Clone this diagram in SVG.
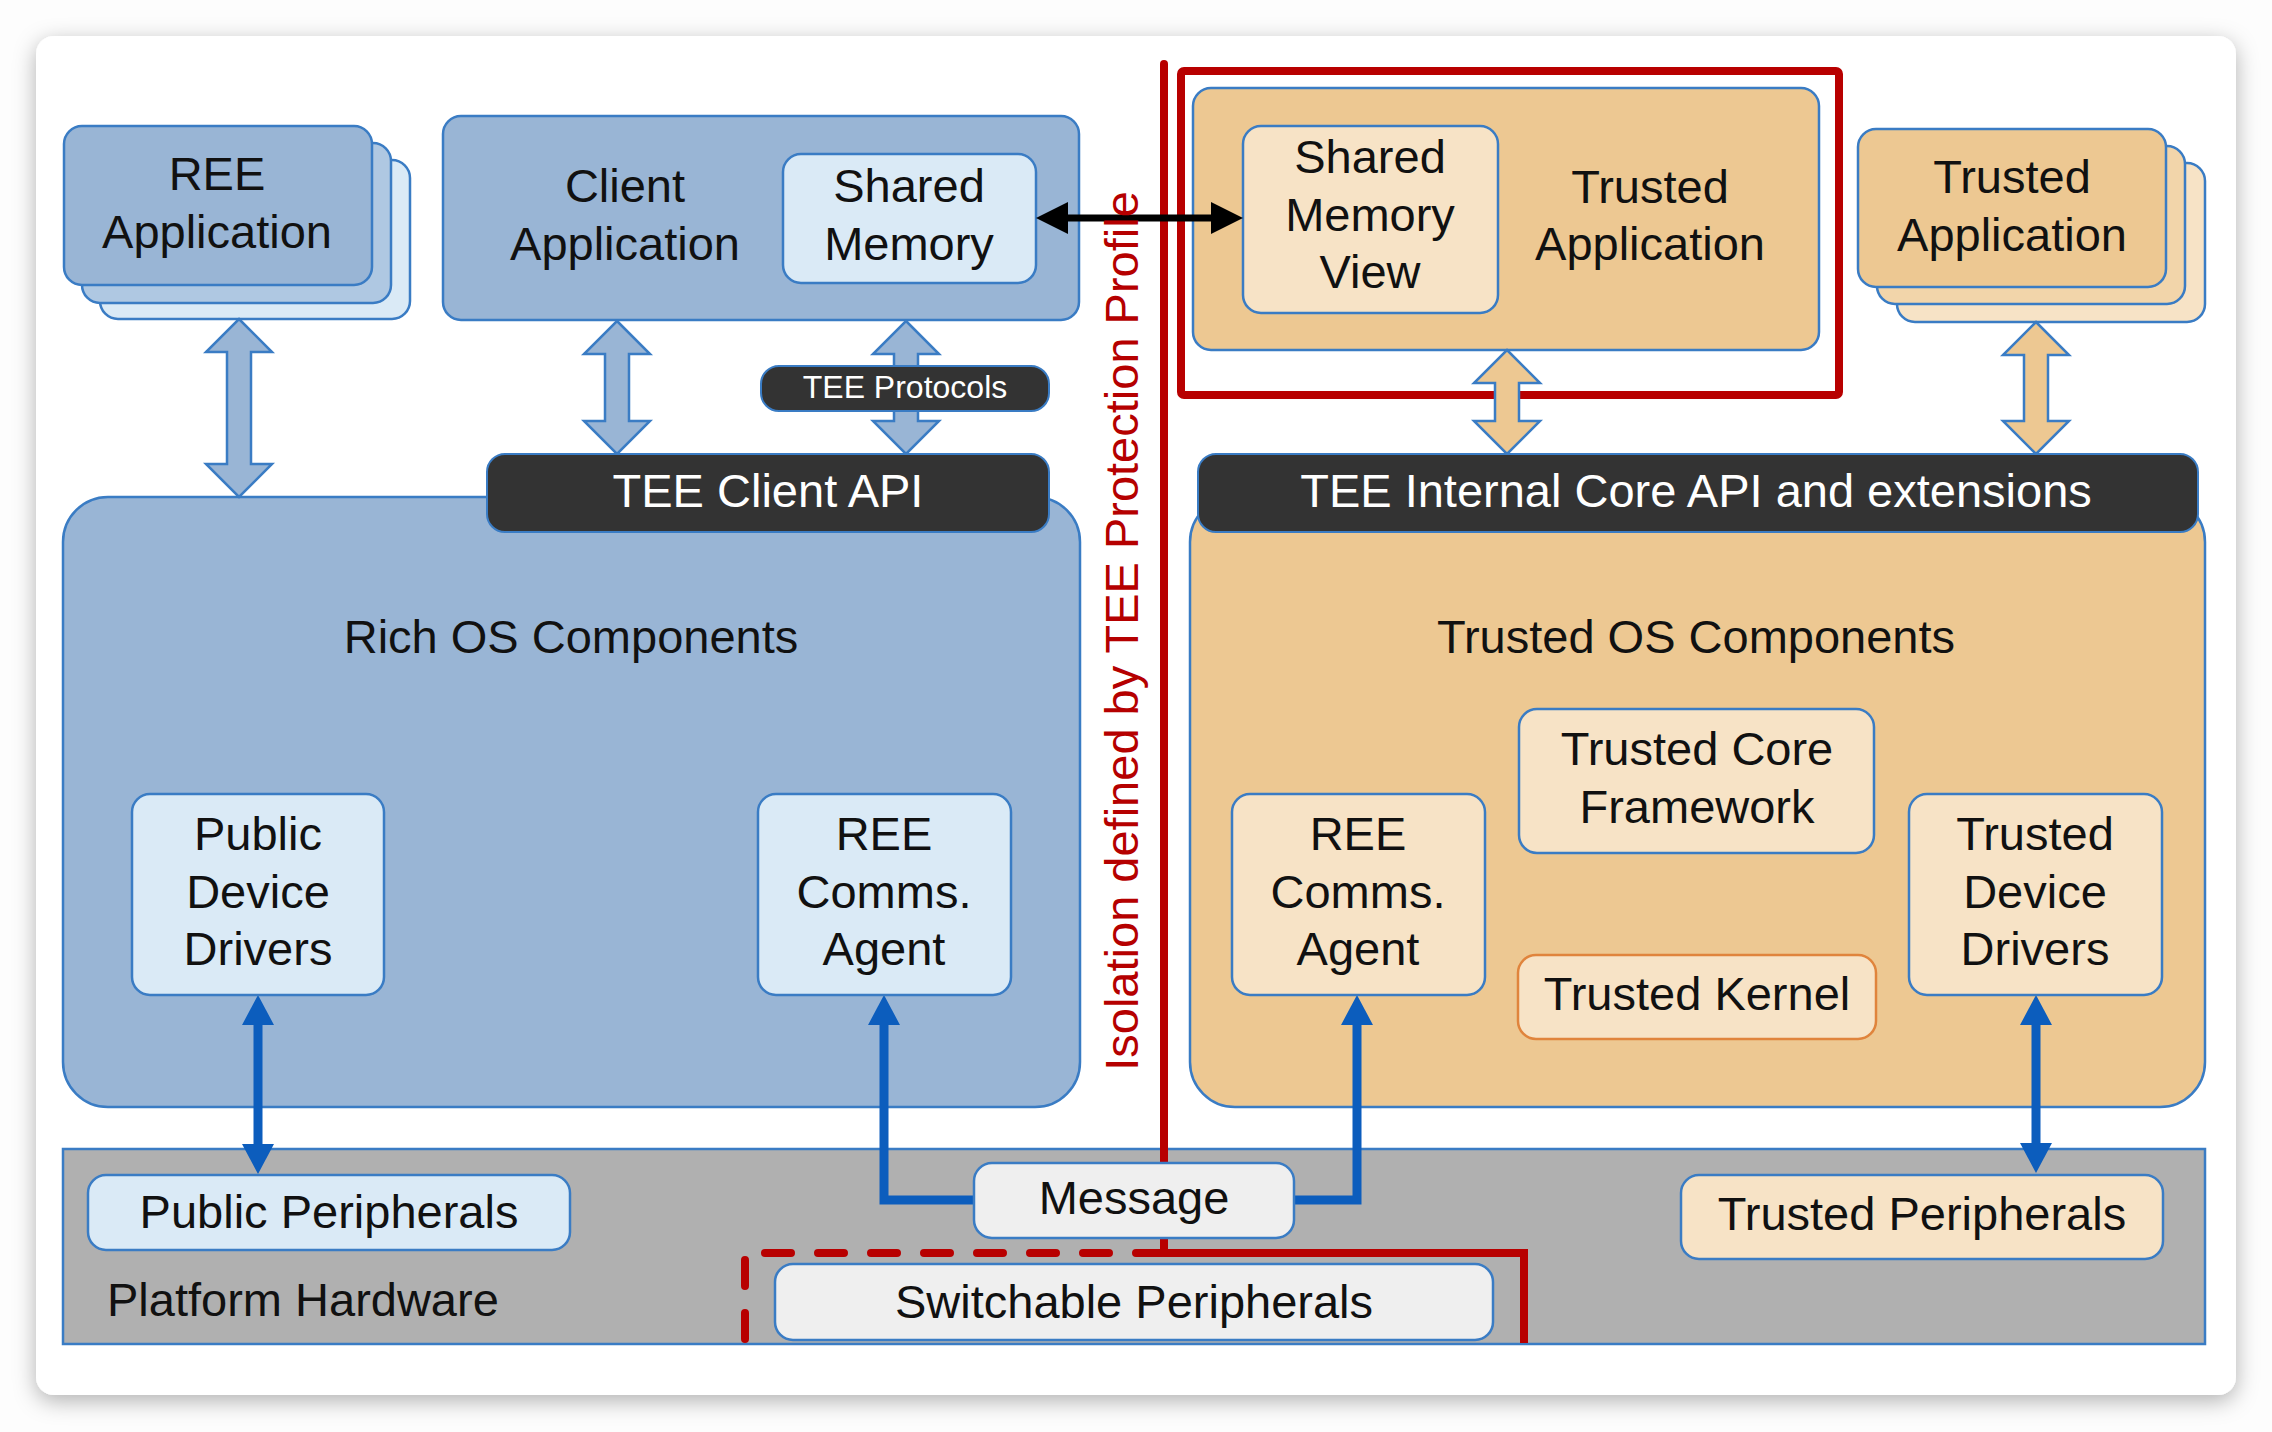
<svg xmlns="http://www.w3.org/2000/svg" width="2272" height="1432" viewBox="0 0 2272 1432">
<defs>
<filter id="shadow" x="-5%" y="-5%" width="110%" height="112%">
<feDropShadow dx="0" dy="6" stdDeviation="11" flood-color="#000" flood-opacity="0.3"/>
</filter>
<marker id="bh" markerUnits="userSpaceOnUse" markerWidth="32" markerHeight="32" viewBox="0 0 30 32" refX="20" refY="16" orient="auto-start-reverse">
<path d="M0,0 L30,16 L0,32 Z" fill="#0c5dbd"/>
</marker>
<marker id="kh" markerUnits="userSpaceOnUse" markerWidth="32" markerHeight="32" viewBox="0 0 32 32" refX="22" refY="16" orient="auto-start-reverse">
<path d="M0,0 L32,16 L0,32 Z" fill="#000"/>
</marker>
<style>
text{font-family:"Liberation Sans",Arial,Helvetica,sans-serif;font-size:47px;fill:#111;text-anchor:middle}
.bl{fill:#99b5d5;stroke:#3a7cc4;stroke-width:2.5}
.bl2{fill:#afc8e2;stroke:#3a7cc4;stroke-width:2.5}
.lb{fill:#daeaf6;stroke:#3a7cc4;stroke-width:2.5}
.tn{fill:#edc892;stroke:#3a7cc4;stroke-width:2.5}
.tn2{fill:#f2d5aa;stroke:#3a7cc4;stroke-width:2.5}
.lt{fill:#f7e3c6;stroke:#3a7cc4;stroke-width:2.5}
.dk{fill:#333;stroke:#3a7cc4;stroke-width:2}
.gy{fill:#efefef;stroke:#3a7cc4;stroke-width:2.5}
.w{fill:#fff}
.fat{stroke:#3a7cc4;stroke-width:2.5;stroke-linejoin:miter}
.con{fill:none;stroke:#0c5dbd;stroke-width:9}
.red{fill:none;stroke:#b80000;stroke-width:8}
</style>
</defs>
<rect width="2272" height="1432" fill="#fdfdfd"/>
<rect x="36" y="36" width="2200" height="1359" rx="18" fill="#fff" filter="url(#shadow)"/>

<g id="platform-hardware">
<rect x="63" y="1149" width="2142" height="195" fill="#b0b0b0" stroke="#3a7cc4" stroke-width="2.5"/>
<text x="107" y="1316" style="text-anchor:start">Platform Hardware</text>
</g>

<g id="rich-os">
<rect class="bl" x="63" y="497" width="1017" height="610" rx="45"/>
<text x="571" y="653">Rich OS Components</text>
</g>
<g id="trusted-os">
<rect class="tn" x="1190" y="497" width="1015" height="610" rx="45"/>
<text x="1696" y="653">Trusted OS Components</text>
</g>

<g id="ree-application">
<rect class="lb" x="100" y="160" width="310" height="159" rx="18"/>
<rect class="bl2" x="82" y="143" width="309" height="160" rx="18"/>
<rect class="bl" x="64" y="126" width="308" height="159" rx="18"/>
<text x="217" y="190">REE</text>
<text x="217" y="248">Application</text>
</g>

<g id="client-application">
<rect class="bl" x="443" y="116" width="636" height="204" rx="18"/>
<text x="625" y="202">Client</text>
<text x="625" y="260">Application</text>
</g>
<g id="shared-memory">
<rect class="lb" x="783" y="154" width="253" height="129" rx="18"/>
<text x="909" y="202">Shared</text>
<text x="909" y="260">Memory</text>
</g>

<g id="trusted-application-stack">
<rect class="lt" x="1897" y="163" width="308" height="159" rx="18"/>
<rect class="tn2" x="1877" y="146" width="308" height="158" rx="18"/>
<rect class="tn" x="1858" y="129" width="308" height="158" rx="18"/>
<text x="2012" y="193">Trusted</text>
<text x="2012" y="251">Application</text>
</g>

<g id="isolation-boundary">
<line class="red" x1="1164" y1="64" x2="1164" y2="1253" stroke-linecap="round"/>
<rect class="red" x="1181" y="71" width="658" height="324" rx="3"/>
<path class="red" d="M745,1339 V1253 H1164" stroke-dasharray="26 27" stroke-linecap="round"/>
<path class="red" d="M1164,1253 H1524 V1343"/>
</g>

<g id="trusted-application">
<rect class="tn" x="1193" y="88" width="626" height="262" rx="18"/>
<text x="1650" y="203">Trusted</text>
<text x="1650" y="260">Application</text>
</g>
<g id="shared-memory-view">
<rect class="lt" x="1243" y="126" width="255" height="187" rx="18"/>
<text x="1370" y="173">Shared</text>
<text x="1370" y="231">Memory</text>
<text x="1370" y="288">View</text>
</g>

<g id="connectors">
<path class="fat" fill="#99b5d5" d="M239,319 L272,352 L251,352 L251,464 L272,464 L239,497 L206,464 L227,464 L227,352 L206,352 Z"/>
<path class="fat" fill="#99b5d5" d="M617,321 L650,354 L629,354 L629,421 L650,421 L617,454 L584,421 L605,421 L605,354 L584,354 Z"/>
<path class="fat" fill="#99b5d5" d="M906,321 L939,354 L918,354 L918,421 L939,421 L906,454 L873,421 L894,421 L894,354 L873,354 Z"/>
<path class="fat" fill="#edc892" d="M1507,350 L1540,383 L1519,383 L1519,421 L1540,421 L1507,454 L1474,421 L1495,421 L1495,383 L1474,383 Z"/>
<path class="fat" fill="#edc892" d="M2036,322 L2069,355 L2048,355 L2048,421 L2069,421 L2036,454 L2003,421 L2024,421 L2024,355 L2003,355 Z"/>
<line x1="1046" y1="218" x2="1233" y2="218" stroke="#000" stroke-width="7" marker-start="url(#kh)" marker-end="url(#kh)"/>
<line class="con" x1="258" y1="1005" x2="258" y2="1164" marker-start="url(#bh)" marker-end="url(#bh)"/>
<polyline class="con" points="976,1200 884,1200 884,1005" marker-end="url(#bh)"/>
<polyline class="con" points="1292,1200 1357,1200 1357,1005" marker-end="url(#bh)"/>
<line class="con" x1="2036" y1="1005" x2="2036" y2="1163" marker-start="url(#bh)" marker-end="url(#bh)"/>
</g>

<g id="isolation-label">
<text transform="translate(1138,631) rotate(-90)" style="fill:#b50000">Isolation defined by TEE Protection Profile</text>
</g>

<g id="tee-protocols">
<rect class="dk" x="761" y="366" width="288" height="45" rx="18"/>
<text x="905" y="398" style="fill:#fff;font-size:32px">TEE Protocols</text>
</g>
<g id="tee-client-api">
<rect class="dk" x="487" y="454" width="562" height="78" rx="18"/>
<text x="768" y="507" style="fill:#fff">TEE Client API</text>
</g>
<g id="tee-internal-core-api">
<rect class="dk" x="1198" y="454" width="1000" height="78" rx="18"/>
<text x="1696" y="507" style="fill:#fff">TEE Internal Core API and extensions</text>
</g>

<g id="public-device-drivers">
<rect class="lb" x="132" y="794" width="252" height="201" rx="18"/>
<text x="258" y="850">Public</text>
<text x="258" y="908">Device</text>
<text x="258" y="965">Drivers</text>
</g>
<g id="ree-comms-agent-rich">
<rect class="lb" x="758" y="794" width="253" height="201" rx="18"/>
<text x="884" y="850">REE</text>
<text x="884" y="908">Comms.</text>
<text x="884" y="965">Agent</text>
</g>
<g id="ree-comms-agent-trusted">
<rect class="lt" x="1232" y="794" width="253" height="201" rx="18"/>
<text x="1358" y="850">REE</text>
<text x="1358" y="908">Comms.</text>
<text x="1358" y="965">Agent</text>
</g>
<g id="trusted-core-framework">
<rect class="lt" x="1519" y="709" width="355" height="144" rx="18"/>
<text x="1697" y="765">Trusted Core</text>
<text x="1697" y="823">Framework</text>
</g>
<g id="trusted-kernel">
<rect x="1518" y="955" width="358" height="84" rx="18" fill="#f7e3c6" stroke="#e0843c" stroke-width="2.5"/>
<text x="1697" y="1010">Trusted Kernel</text>
</g>
<g id="trusted-device-drivers">
<rect class="lt" x="1909" y="794" width="253" height="201" rx="18"/>
<text x="2035" y="850">Trusted</text>
<text x="2035" y="908">Device</text>
<text x="2035" y="965">Drivers</text>
</g>

<g id="public-peripherals">
<rect class="lb" x="88" y="1175" width="482" height="75" rx="18"/>
<text x="329" y="1228">Public Peripherals</text>
</g>
<g id="message">
<rect class="gy" x="974" y="1163" width="320" height="75" rx="18"/>
<text x="1134" y="1214">Message</text>
</g>
<g id="switchable-peripherals">
<rect class="gy" x="775" y="1264" width="718" height="76" rx="18"/>
<text x="1134" y="1318">Switchable Peripherals</text>
</g>
<g id="trusted-peripherals">
<rect class="lt" x="1681" y="1175" width="482" height="84" rx="18"/>
<text x="1922" y="1230">Trusted Peripherals</text>
</g>
</svg>
